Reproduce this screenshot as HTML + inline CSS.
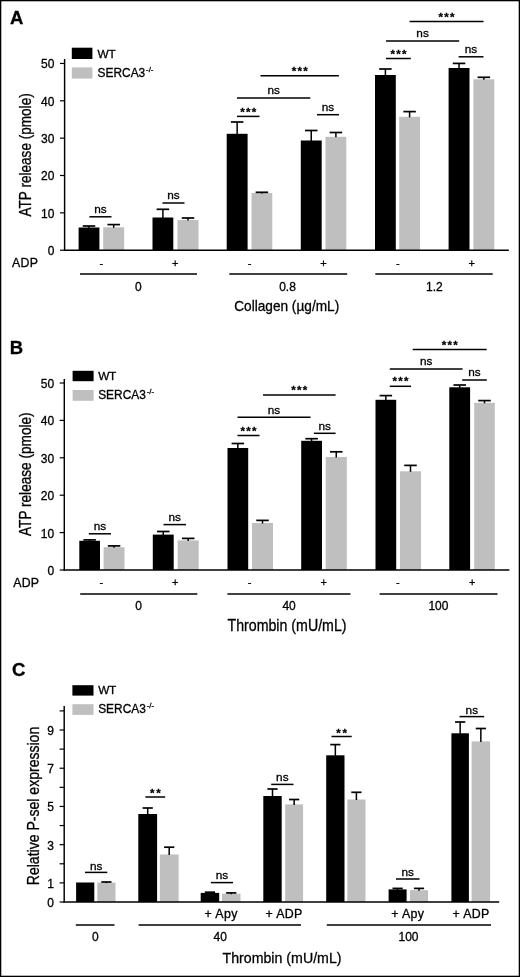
<!DOCTYPE html>
<html><head><meta charset="utf-8"><title>Figure</title>
<style>
html,body{margin:0;padding:0;background:#fff;}
body{width:520px;height:977px;overflow:hidden;position:relative;}
svg{position:absolute;left:0;top:0;display:block;}
svg text{font-family:"Liberation Sans",sans-serif;fill:#000;stroke:#000;stroke-width:0.3px;}
</style></head><body>
<svg width="520" height="977" viewBox="0 0 520 977">
<text x="10.0" y="24.2" font-size="18.5" font-weight="bold">A</text>
<rect x="78.60" y="227.50" width="20.80" height="22.70" fill="#000"/>
<line x1="89.00" y1="226.00" x2="89.00" y2="228.00" stroke="#000" stroke-width="1.5"/>
<line x1="82.75" y1="226.00" x2="95.25" y2="226.00" stroke="#000" stroke-width="1.7"/>
<rect x="103.20" y="227.30" width="21.00" height="22.90" fill="#bfbfbf"/>
<line x1="113.70" y1="224.60" x2="113.70" y2="227.80" stroke="#000" stroke-width="1.5"/>
<line x1="107.45" y1="224.60" x2="119.95" y2="224.60" stroke="#000" stroke-width="1.7"/>
<rect x="152.50" y="217.50" width="20.80" height="32.70" fill="#000"/>
<line x1="162.90" y1="209.30" x2="162.90" y2="218.00" stroke="#000" stroke-width="1.5"/>
<line x1="156.65" y1="209.30" x2="169.15" y2="209.30" stroke="#000" stroke-width="1.7"/>
<rect x="177.50" y="220.00" width="21.00" height="30.20" fill="#bfbfbf"/>
<line x1="188.00" y1="218.00" x2="188.00" y2="220.50" stroke="#000" stroke-width="1.5"/>
<line x1="181.75" y1="218.00" x2="194.25" y2="218.00" stroke="#000" stroke-width="1.7"/>
<rect x="226.70" y="133.80" width="20.90" height="116.40" fill="#000"/>
<line x1="237.15" y1="122.00" x2="237.15" y2="134.30" stroke="#000" stroke-width="1.5"/>
<line x1="230.90" y1="122.00" x2="243.40" y2="122.00" stroke="#000" stroke-width="1.7"/>
<rect x="251.50" y="193.00" width="20.80" height="57.20" fill="#bfbfbf"/>
<line x1="261.90" y1="192.30" x2="261.90" y2="193.50" stroke="#000" stroke-width="1.5"/>
<line x1="255.65" y1="192.30" x2="268.15" y2="192.30" stroke="#000" stroke-width="1.7"/>
<rect x="300.80" y="140.50" width="20.90" height="109.70" fill="#000"/>
<line x1="311.25" y1="130.50" x2="311.25" y2="141.00" stroke="#000" stroke-width="1.5"/>
<line x1="305.00" y1="130.50" x2="317.50" y2="130.50" stroke="#000" stroke-width="1.7"/>
<rect x="325.50" y="136.80" width="20.80" height="113.40" fill="#bfbfbf"/>
<line x1="335.90" y1="132.50" x2="335.90" y2="137.30" stroke="#000" stroke-width="1.5"/>
<line x1="329.65" y1="132.50" x2="342.15" y2="132.50" stroke="#000" stroke-width="1.7"/>
<rect x="375.00" y="75.00" width="20.80" height="175.20" fill="#000"/>
<line x1="385.40" y1="69.00" x2="385.40" y2="75.50" stroke="#000" stroke-width="1.5"/>
<line x1="379.15" y1="69.00" x2="391.65" y2="69.00" stroke="#000" stroke-width="1.7"/>
<rect x="399.20" y="116.80" width="20.80" height="133.40" fill="#bfbfbf"/>
<line x1="409.60" y1="111.60" x2="409.60" y2="117.30" stroke="#000" stroke-width="1.5"/>
<line x1="403.35" y1="111.60" x2="415.85" y2="111.60" stroke="#000" stroke-width="1.7"/>
<rect x="448.60" y="68.00" width="20.90" height="182.20" fill="#000"/>
<line x1="459.05" y1="63.40" x2="459.05" y2="68.50" stroke="#000" stroke-width="1.5"/>
<line x1="452.80" y1="63.40" x2="465.30" y2="63.40" stroke="#000" stroke-width="1.7"/>
<rect x="473.40" y="79.30" width="20.90" height="170.90" fill="#bfbfbf"/>
<line x1="483.85" y1="77.30" x2="483.85" y2="79.80" stroke="#000" stroke-width="1.5"/>
<line x1="477.60" y1="77.30" x2="490.10" y2="77.30" stroke="#000" stroke-width="1.7"/>
<line x1="63.87" y1="250.20" x2="508.80" y2="250.20" stroke="#000" stroke-width="1.45"/>
<line x1="64.60" y1="59.00" x2="64.60" y2="250.92" stroke="#000" stroke-width="1.45"/>
<line x1="60.00" y1="250.20" x2="64.60" y2="250.20" stroke="#000" stroke-width="1.2"/>
<line x1="60.00" y1="212.85" x2="64.60" y2="212.85" stroke="#000" stroke-width="1.2"/>
<line x1="60.00" y1="175.50" x2="64.60" y2="175.50" stroke="#000" stroke-width="1.2"/>
<line x1="60.00" y1="138.15" x2="64.60" y2="138.15" stroke="#000" stroke-width="1.2"/>
<line x1="60.00" y1="100.80" x2="64.60" y2="100.80" stroke="#000" stroke-width="1.2"/>
<line x1="60.00" y1="63.45" x2="64.60" y2="63.45" stroke="#000" stroke-width="1.2"/>
<text x="54.40" y="255.10" font-size="12" text-anchor="end" >0</text>
<text x="54.40" y="217.75" font-size="12" text-anchor="end" >10</text>
<text x="54.40" y="180.40" font-size="12" text-anchor="end" >20</text>
<text x="54.40" y="143.05" font-size="12" text-anchor="end" >30</text>
<text x="54.40" y="105.70" font-size="12" text-anchor="end" >40</text>
<text x="54.40" y="68.35" font-size="12" text-anchor="end" >50</text>
<text transform="translate(31.00,154.90) rotate(-90)" font-size="16.3" text-anchor="middle" textLength="123.2" lengthAdjust="spacingAndGlyphs">ATP release (pmole)</text>
<rect x="71.80" y="47.70" width="20.60" height="11.30" fill="#000"/>
<rect x="71.80" y="67.40" width="20.60" height="11.20" fill="#bfbfbf"/>
<text x="97.60" y="57.80" font-size="11.8" text-anchor="start" letter-spacing="-0.3">WT</text>
<text x="97.60" y="76.90" font-size="11.9" text-anchor="start">SERCA3<tspan font-size="7.8" dy="-5.0" dx="0.9">-/-</tspan></text>
<line x1="89.40" y1="216.80" x2="111.50" y2="216.80" stroke="#000" stroke-width="1.5"/>
<text x="100.45" y="212.80" font-size="11.8" text-anchor="middle" >ns</text>
<line x1="162.50" y1="203.00" x2="184.50" y2="203.00" stroke="#000" stroke-width="1.5"/>
<text x="173.50" y="199.00" font-size="11.8" text-anchor="middle" >ns</text>
<line x1="237.00" y1="116.40" x2="259.50" y2="116.40" stroke="#000" stroke-width="1.5"/>
<text x="248.90" y="115.70" font-size="11.5" text-anchor="middle" letter-spacing="1.3" font-weight="bold">***</text>
<line x1="237.00" y1="97.90" x2="310.30" y2="97.90" stroke="#000" stroke-width="1.5"/>
<text x="273.65" y="93.90" font-size="11.8" text-anchor="middle" >ns</text>
<line x1="260.50" y1="75.70" x2="338.90" y2="75.70" stroke="#000" stroke-width="1.5"/>
<text x="300.35" y="75.00" font-size="11.5" text-anchor="middle" letter-spacing="1.3" font-weight="bold">***</text>
<line x1="317.00" y1="114.70" x2="339.00" y2="114.70" stroke="#000" stroke-width="1.5"/>
<text x="328.00" y="110.70" font-size="11.8" text-anchor="middle" >ns</text>
<line x1="386.00" y1="58.50" x2="410.80" y2="58.50" stroke="#000" stroke-width="1.5"/>
<text x="399.05" y="57.50" font-size="11.5" text-anchor="middle" letter-spacing="1.3" font-weight="bold">***</text>
<line x1="386.00" y1="41.00" x2="459.20" y2="41.00" stroke="#000" stroke-width="1.5"/>
<text x="422.60" y="37.00" font-size="11.8" text-anchor="middle" >ns</text>
<line x1="409.60" y1="21.60" x2="483.50" y2="21.60" stroke="#000" stroke-width="1.5"/>
<text x="447.20" y="20.60" font-size="11.5" text-anchor="middle" letter-spacing="1.3" font-weight="bold">***</text>
<line x1="458.60" y1="56.80" x2="483.50" y2="56.80" stroke="#000" stroke-width="1.5"/>
<text x="471.05" y="52.80" font-size="11.8" text-anchor="middle" >ns</text>
<text x="12.00" y="266.60" font-size="12.3" text-anchor="start" letter-spacing="0.3">ADP</text>
<text x="101.30" y="266.60" font-size="11" text-anchor="middle" >-</text>
<text x="175.30" y="266.60" font-size="11" text-anchor="middle" >+</text>
<text x="249.60" y="266.60" font-size="11" text-anchor="middle" >-</text>
<text x="323.50" y="266.60" font-size="11" text-anchor="middle" >+</text>
<text x="397.80" y="266.60" font-size="11" text-anchor="middle" >-</text>
<text x="471.60" y="266.60" font-size="11" text-anchor="middle" >+</text>
<line x1="80.00" y1="274.10" x2="197.00" y2="274.10" stroke="#000" stroke-width="1.5"/>
<line x1="229.30" y1="274.10" x2="347.20" y2="274.10" stroke="#000" stroke-width="1.5"/>
<line x1="375.30" y1="274.10" x2="492.70" y2="274.10" stroke="#000" stroke-width="1.5"/>
<text x="138.30" y="290.90" font-size="12" text-anchor="middle" >0</text>
<text x="287.50" y="290.90" font-size="12" text-anchor="middle" >0.8</text>
<text x="434.40" y="290.90" font-size="12" text-anchor="middle" >1.2</text>
<text x="286.70" y="310.80" font-size="14.6" text-anchor="middle" textLength="105" lengthAdjust="spacingAndGlyphs">Collagen (µg/mL)</text>
<text x="9.8" y="353.6" font-size="18.5" font-weight="bold">B</text>
<rect x="79.30" y="540.80" width="20.70" height="29.20" fill="#000"/>
<line x1="89.65" y1="539.90" x2="89.65" y2="541.30" stroke="#000" stroke-width="1.5"/>
<line x1="83.40" y1="539.90" x2="95.90" y2="539.90" stroke="#000" stroke-width="1.7"/>
<rect x="103.60" y="547.20" width="20.90" height="22.80" fill="#bfbfbf"/>
<line x1="114.05" y1="545.90" x2="114.05" y2="547.70" stroke="#000" stroke-width="1.5"/>
<line x1="107.80" y1="545.90" x2="120.30" y2="545.90" stroke="#000" stroke-width="1.7"/>
<rect x="152.80" y="534.60" width="20.90" height="35.40" fill="#000"/>
<line x1="163.25" y1="531.50" x2="163.25" y2="535.10" stroke="#000" stroke-width="1.5"/>
<line x1="157.00" y1="531.50" x2="169.50" y2="531.50" stroke="#000" stroke-width="1.7"/>
<rect x="177.70" y="540.40" width="21.00" height="29.60" fill="#bfbfbf"/>
<line x1="188.20" y1="538.40" x2="188.20" y2="540.90" stroke="#000" stroke-width="1.5"/>
<line x1="181.95" y1="538.40" x2="194.45" y2="538.40" stroke="#000" stroke-width="1.7"/>
<rect x="227.50" y="448.00" width="20.70" height="122.00" fill="#000"/>
<line x1="237.85" y1="443.50" x2="237.85" y2="448.50" stroke="#000" stroke-width="1.5"/>
<line x1="231.60" y1="443.50" x2="244.10" y2="443.50" stroke="#000" stroke-width="1.7"/>
<rect x="252.00" y="523.00" width="21.00" height="47.00" fill="#bfbfbf"/>
<line x1="262.50" y1="520.40" x2="262.50" y2="523.50" stroke="#000" stroke-width="1.5"/>
<line x1="256.25" y1="520.40" x2="268.75" y2="520.40" stroke="#000" stroke-width="1.7"/>
<rect x="301.20" y="440.80" width="20.80" height="129.20" fill="#000"/>
<line x1="311.60" y1="438.70" x2="311.60" y2="441.30" stroke="#000" stroke-width="1.5"/>
<line x1="305.35" y1="438.70" x2="317.85" y2="438.70" stroke="#000" stroke-width="1.7"/>
<rect x="325.70" y="457.00" width="21.10" height="113.00" fill="#bfbfbf"/>
<line x1="336.25" y1="451.80" x2="336.25" y2="457.50" stroke="#000" stroke-width="1.5"/>
<line x1="330.00" y1="451.80" x2="342.50" y2="451.80" stroke="#000" stroke-width="1.7"/>
<rect x="375.50" y="399.80" width="20.70" height="170.20" fill="#000"/>
<line x1="385.85" y1="395.60" x2="385.85" y2="400.30" stroke="#000" stroke-width="1.5"/>
<line x1="379.60" y1="395.60" x2="392.10" y2="395.60" stroke="#000" stroke-width="1.7"/>
<rect x="400.00" y="471.30" width="21.00" height="98.70" fill="#bfbfbf"/>
<line x1="410.50" y1="465.40" x2="410.50" y2="471.80" stroke="#000" stroke-width="1.5"/>
<line x1="404.25" y1="465.40" x2="416.75" y2="465.40" stroke="#000" stroke-width="1.7"/>
<rect x="449.30" y="387.30" width="20.80" height="182.70" fill="#000"/>
<line x1="459.70" y1="385.00" x2="459.70" y2="387.80" stroke="#000" stroke-width="1.5"/>
<line x1="453.45" y1="385.00" x2="465.95" y2="385.00" stroke="#000" stroke-width="1.7"/>
<rect x="474.20" y="402.80" width="20.60" height="167.20" fill="#bfbfbf"/>
<line x1="484.50" y1="400.60" x2="484.50" y2="403.30" stroke="#000" stroke-width="1.5"/>
<line x1="478.25" y1="400.60" x2="490.75" y2="400.60" stroke="#000" stroke-width="1.7"/>
<line x1="63.57" y1="570.00" x2="509.40" y2="570.00" stroke="#000" stroke-width="1.45"/>
<line x1="64.30" y1="379.00" x2="64.30" y2="570.73" stroke="#000" stroke-width="1.45"/>
<line x1="59.70" y1="570.00" x2="64.30" y2="570.00" stroke="#000" stroke-width="1.2"/>
<line x1="59.70" y1="532.60" x2="64.30" y2="532.60" stroke="#000" stroke-width="1.2"/>
<line x1="59.70" y1="495.20" x2="64.30" y2="495.20" stroke="#000" stroke-width="1.2"/>
<line x1="59.70" y1="457.80" x2="64.30" y2="457.80" stroke="#000" stroke-width="1.2"/>
<line x1="59.70" y1="420.40" x2="64.30" y2="420.40" stroke="#000" stroke-width="1.2"/>
<line x1="59.70" y1="383.00" x2="64.30" y2="383.00" stroke="#000" stroke-width="1.2"/>
<text x="54.10" y="574.90" font-size="12" text-anchor="end" >0</text>
<text x="54.10" y="537.50" font-size="12" text-anchor="end" >10</text>
<text x="54.10" y="500.10" font-size="12" text-anchor="end" >20</text>
<text x="54.10" y="462.70" font-size="12" text-anchor="end" >30</text>
<text x="54.10" y="425.30" font-size="12" text-anchor="end" >40</text>
<text x="54.10" y="387.90" font-size="12" text-anchor="end" >50</text>
<text transform="translate(31.00,474.20) rotate(-90)" font-size="16.3" text-anchor="middle" textLength="123.6" lengthAdjust="spacingAndGlyphs">ATP release (pmole)</text>
<rect x="72.60" y="370.80" width="21.00" height="10.40" fill="#000"/>
<rect x="72.60" y="390.00" width="21.00" height="10.80" fill="#bfbfbf"/>
<text x="98.20" y="380.00" font-size="11.8" text-anchor="start" letter-spacing="-0.3">WT</text>
<text x="98.20" y="399.10" font-size="11.9" text-anchor="start">SERCA3<tspan font-size="7.8" dy="-5.0" dx="0.9">-/-</tspan></text>
<line x1="88.80" y1="533.80" x2="111.00" y2="533.80" stroke="#000" stroke-width="1.5"/>
<text x="99.90" y="529.80" font-size="11.8" text-anchor="middle" >ns</text>
<line x1="163.50" y1="524.60" x2="186.00" y2="524.60" stroke="#000" stroke-width="1.5"/>
<text x="174.75" y="520.60" font-size="11.8" text-anchor="middle" >ns</text>
<line x1="237.50" y1="435.50" x2="259.50" y2="435.50" stroke="#000" stroke-width="1.5"/>
<text x="249.15" y="434.50" font-size="11.5" text-anchor="middle" letter-spacing="1.3" font-weight="bold">***</text>
<line x1="237.50" y1="417.20" x2="310.60" y2="417.20" stroke="#000" stroke-width="1.5"/>
<text x="274.05" y="414.00" font-size="11.8" text-anchor="middle" >ns</text>
<line x1="263.00" y1="395.00" x2="335.60" y2="395.00" stroke="#000" stroke-width="1.5"/>
<text x="299.95" y="394.00" font-size="11.5" text-anchor="middle" letter-spacing="1.3" font-weight="bold">***</text>
<line x1="313.80" y1="433.30" x2="335.60" y2="433.30" stroke="#000" stroke-width="1.5"/>
<text x="324.70" y="430.40" font-size="11.8" text-anchor="middle" >ns</text>
<line x1="389.80" y1="386.30" x2="411.00" y2="386.30" stroke="#000" stroke-width="1.5"/>
<text x="401.05" y="385.30" font-size="11.5" text-anchor="middle" letter-spacing="1.3" font-weight="bold">***</text>
<line x1="389.80" y1="369.00" x2="462.60" y2="369.00" stroke="#000" stroke-width="1.5"/>
<text x="426.20" y="365.00" font-size="11.8" text-anchor="middle" >ns</text>
<line x1="412.70" y1="349.50" x2="486.70" y2="349.50" stroke="#000" stroke-width="1.5"/>
<text x="450.35" y="348.50" font-size="11.5" text-anchor="middle" letter-spacing="1.3" font-weight="bold">***</text>
<line x1="462.20" y1="380.00" x2="486.80" y2="380.00" stroke="#000" stroke-width="1.5"/>
<text x="474.50" y="376.20" font-size="11.8" text-anchor="middle" >ns</text>
<text x="13.20" y="586.50" font-size="12.3" text-anchor="start" letter-spacing="0.3">ADP</text>
<text x="101.30" y="586.00" font-size="11" text-anchor="middle" >-</text>
<text x="175.30" y="586.00" font-size="11" text-anchor="middle" >+</text>
<text x="249.70" y="586.00" font-size="11" text-anchor="middle" >-</text>
<text x="323.60" y="586.00" font-size="11" text-anchor="middle" >+</text>
<text x="397.80" y="586.00" font-size="11" text-anchor="middle" >-</text>
<text x="472.20" y="586.00" font-size="11" text-anchor="middle" >+</text>
<line x1="80.20" y1="593.90" x2="197.30" y2="593.90" stroke="#000" stroke-width="1.5"/>
<line x1="227.40" y1="593.90" x2="350.40" y2="593.90" stroke="#000" stroke-width="1.5"/>
<line x1="379.60" y1="593.90" x2="497.50" y2="593.90" stroke="#000" stroke-width="1.5"/>
<text x="138.50" y="609.70" font-size="12" text-anchor="middle" >0</text>
<text x="289.10" y="609.70" font-size="12" text-anchor="middle" >40</text>
<text x="438.40" y="609.70" font-size="12" text-anchor="middle" >100</text>
<text x="287.00" y="630.60" font-size="15.6" text-anchor="middle" textLength="119" lengthAdjust="spacingAndGlyphs">Thrombin (mU/mL)</text>
<text x="12.0" y="676.2" font-size="18.5" font-weight="bold">C</text>
<rect x="76.10" y="882.50" width="18.20" height="19.50" fill="#000"/>
<rect x="97.30" y="882.60" width="18.20" height="19.40" fill="#bfbfbf"/>
<line x1="106.40" y1="882.00" x2="106.40" y2="883.10" stroke="#000" stroke-width="1.5"/>
<line x1="101.30" y1="882.00" x2="111.50" y2="882.00" stroke="#000" stroke-width="1.7"/>
<rect x="138.30" y="814.00" width="18.80" height="88.00" fill="#000"/>
<line x1="147.70" y1="808.00" x2="147.70" y2="814.50" stroke="#000" stroke-width="1.5"/>
<line x1="142.60" y1="808.00" x2="152.80" y2="808.00" stroke="#000" stroke-width="1.7"/>
<rect x="159.80" y="854.50" width="18.80" height="47.50" fill="#bfbfbf"/>
<line x1="169.20" y1="847.20" x2="169.20" y2="855.00" stroke="#000" stroke-width="1.5"/>
<line x1="164.10" y1="847.20" x2="174.30" y2="847.20" stroke="#000" stroke-width="1.7"/>
<rect x="200.70" y="892.90" width="18.50" height="9.10" fill="#000"/>
<line x1="209.95" y1="892.20" x2="209.95" y2="893.40" stroke="#000" stroke-width="1.5"/>
<line x1="204.85" y1="892.20" x2="215.05" y2="892.20" stroke="#000" stroke-width="1.7"/>
<rect x="222.00" y="893.70" width="18.50" height="8.30" fill="#bfbfbf"/>
<line x1="231.25" y1="892.90" x2="231.25" y2="894.20" stroke="#000" stroke-width="1.5"/>
<line x1="226.15" y1="892.90" x2="236.35" y2="892.90" stroke="#000" stroke-width="1.7"/>
<rect x="263.30" y="796.00" width="18.40" height="106.00" fill="#000"/>
<line x1="272.50" y1="789.00" x2="272.50" y2="796.50" stroke="#000" stroke-width="1.5"/>
<line x1="267.40" y1="789.00" x2="277.60" y2="789.00" stroke="#000" stroke-width="1.7"/>
<rect x="285.20" y="804.40" width="17.90" height="97.60" fill="#bfbfbf"/>
<line x1="294.15" y1="799.50" x2="294.15" y2="804.90" stroke="#000" stroke-width="1.5"/>
<line x1="289.05" y1="799.50" x2="299.25" y2="799.50" stroke="#000" stroke-width="1.7"/>
<rect x="326.20" y="755.30" width="18.30" height="146.70" fill="#000"/>
<line x1="335.35" y1="744.60" x2="335.35" y2="755.80" stroke="#000" stroke-width="1.5"/>
<line x1="330.25" y1="744.60" x2="340.45" y2="744.60" stroke="#000" stroke-width="1.7"/>
<rect x="347.30" y="799.50" width="18.20" height="102.50" fill="#bfbfbf"/>
<line x1="356.40" y1="792.30" x2="356.40" y2="800.00" stroke="#000" stroke-width="1.5"/>
<line x1="351.30" y1="792.30" x2="361.50" y2="792.30" stroke="#000" stroke-width="1.7"/>
<rect x="388.60" y="889.40" width="18.00" height="12.60" fill="#000"/>
<line x1="397.60" y1="888.40" x2="397.60" y2="889.90" stroke="#000" stroke-width="1.5"/>
<line x1="392.50" y1="888.40" x2="402.70" y2="888.40" stroke="#000" stroke-width="1.7"/>
<rect x="410.00" y="890.20" width="18.00" height="11.80" fill="#bfbfbf"/>
<line x1="419.00" y1="888.40" x2="419.00" y2="890.70" stroke="#000" stroke-width="1.5"/>
<line x1="413.90" y1="888.40" x2="424.10" y2="888.40" stroke="#000" stroke-width="1.7"/>
<rect x="451.40" y="733.30" width="17.50" height="168.70" fill="#000"/>
<line x1="460.15" y1="722.00" x2="460.15" y2="733.80" stroke="#000" stroke-width="1.5"/>
<line x1="455.05" y1="722.00" x2="465.25" y2="722.00" stroke="#000" stroke-width="1.7"/>
<rect x="471.60" y="741.40" width="18.50" height="160.60" fill="#bfbfbf"/>
<line x1="480.85" y1="728.50" x2="480.85" y2="741.90" stroke="#000" stroke-width="1.5"/>
<line x1="475.75" y1="728.50" x2="485.95" y2="728.50" stroke="#000" stroke-width="1.7"/>
<line x1="63.48" y1="902.00" x2="499.20" y2="902.00" stroke="#000" stroke-width="1.45"/>
<line x1="64.20" y1="706.00" x2="64.20" y2="902.73" stroke="#000" stroke-width="1.45"/>
<line x1="59.60" y1="902.00" x2="64.20" y2="902.00" stroke="#000" stroke-width="1.2"/>
<line x1="59.60" y1="882.89" x2="64.20" y2="882.89" stroke="#000" stroke-width="1.2"/>
<line x1="59.60" y1="863.78" x2="64.20" y2="863.78" stroke="#000" stroke-width="1.2"/>
<line x1="59.60" y1="844.67" x2="64.20" y2="844.67" stroke="#000" stroke-width="1.2"/>
<line x1="59.60" y1="825.56" x2="64.20" y2="825.56" stroke="#000" stroke-width="1.2"/>
<line x1="59.60" y1="806.45" x2="64.20" y2="806.45" stroke="#000" stroke-width="1.2"/>
<line x1="59.60" y1="787.34" x2="64.20" y2="787.34" stroke="#000" stroke-width="1.2"/>
<line x1="59.60" y1="768.23" x2="64.20" y2="768.23" stroke="#000" stroke-width="1.2"/>
<line x1="59.60" y1="749.12" x2="64.20" y2="749.12" stroke="#000" stroke-width="1.2"/>
<line x1="59.60" y1="730.01" x2="64.20" y2="730.01" stroke="#000" stroke-width="1.2"/>
<line x1="59.60" y1="710.90" x2="64.20" y2="710.90" stroke="#000" stroke-width="1.2"/>
<text x="54.00" y="906.90" font-size="12" text-anchor="end" >0</text>
<text x="54.00" y="887.79" font-size="12" text-anchor="end" >1</text>
<text x="54.00" y="849.57" font-size="12" text-anchor="end" >3</text>
<text x="54.00" y="811.35" font-size="12" text-anchor="end" >5</text>
<text x="54.00" y="773.13" font-size="12" text-anchor="end" >7</text>
<text x="54.00" y="734.91" font-size="12" text-anchor="end" >9</text>
<text transform="translate(38.80,806.00) rotate(-90)" font-size="16.2" text-anchor="middle" textLength="158.5" lengthAdjust="spacingAndGlyphs">Relative P-sel expression</text>
<rect x="72.40" y="685.20" width="21.10" height="10.40" fill="#000"/>
<rect x="72.40" y="704.20" width="21.10" height="10.70" fill="#bfbfbf"/>
<text x="98.20" y="694.40" font-size="11.8" text-anchor="start" letter-spacing="-0.3">WT</text>
<text x="98.20" y="713.20" font-size="11.9" text-anchor="start">SERCA3<tspan font-size="7.8" dy="-5.0" dx="0.9">-/-</tspan></text>
<line x1="85.00" y1="872.40" x2="107.30" y2="872.40" stroke="#000" stroke-width="1.5"/>
<text x="96.15" y="869.70" font-size="11.8" text-anchor="middle" >ns</text>
<line x1="145.40" y1="797.00" x2="165.20" y2="797.00" stroke="#000" stroke-width="1.5"/>
<text x="156.15" y="797.20" font-size="11.5" text-anchor="middle" letter-spacing="1.7" font-weight="bold">**</text>
<line x1="210.90" y1="882.60" x2="233.00" y2="882.60" stroke="#000" stroke-width="1.5"/>
<text x="221.95" y="878.80" font-size="11.8" text-anchor="middle" >ns</text>
<line x1="271.20" y1="784.40" x2="293.50" y2="784.40" stroke="#000" stroke-width="1.5"/>
<text x="282.35" y="780.80" font-size="11.8" text-anchor="middle" >ns</text>
<line x1="331.50" y1="736.50" x2="351.70" y2="736.50" stroke="#000" stroke-width="1.5"/>
<text x="342.45" y="737.30" font-size="11.5" text-anchor="middle" letter-spacing="1.7" font-weight="bold">**</text>
<line x1="396.00" y1="879.00" x2="419.50" y2="879.00" stroke="#000" stroke-width="1.5"/>
<text x="407.75" y="876.10" font-size="11.8" text-anchor="middle" >ns</text>
<line x1="459.50" y1="716.60" x2="484.20" y2="716.60" stroke="#000" stroke-width="1.5"/>
<text x="471.85" y="713.90" font-size="11.8" text-anchor="middle" >ns</text>
<text x="204.60" y="917.80" font-size="12.4" text-anchor="start" letter-spacing="0.35">+ Apy</text>
<text x="265.50" y="917.80" font-size="12.4" text-anchor="start" letter-spacing="0.35">+ ADP</text>
<text x="391.20" y="917.80" font-size="12.4" text-anchor="start" letter-spacing="0.35">+ Apy</text>
<text x="452.50" y="917.80" font-size="12.4" text-anchor="start" letter-spacing="0.35">+ ADP</text>
<line x1="75.80" y1="925.00" x2="114.50" y2="925.00" stroke="#000" stroke-width="1.5"/>
<line x1="138.60" y1="925.00" x2="301.00" y2="925.00" stroke="#000" stroke-width="1.5"/>
<line x1="326.80" y1="925.00" x2="491.00" y2="925.00" stroke="#000" stroke-width="1.5"/>
<text x="95.40" y="940.70" font-size="12" text-anchor="middle" >0</text>
<text x="220.30" y="940.70" font-size="12" text-anchor="middle" >40</text>
<text x="408.50" y="940.70" font-size="12" text-anchor="middle" >100</text>
<text x="282.00" y="963.00" font-size="15.1" text-anchor="middle" textLength="119" lengthAdjust="spacingAndGlyphs">Thrombin (mU/mL)</text>
<rect x="0" y="0" width="520" height="977" fill="none" stroke="#000" stroke-width="2.6"/>
</svg>
</body></html>
